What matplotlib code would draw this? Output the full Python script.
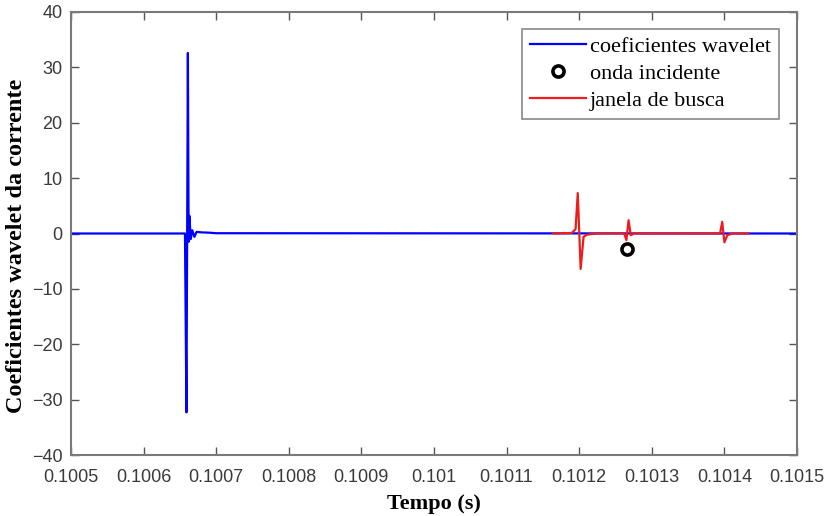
import matplotlib
matplotlib.use("Agg")
import matplotlib.pyplot as plt

# ---- data ----
blue_t = [0.1005, 0.100657, 0.100659, 0.100661, 0.100662, 0.100663, 0.100665,
          0.100667, 0.100670, 0.100673, 0.100680, 0.100690, 0.100700, 0.1015]
blue_v = [0, 0, -32.3, 32.6, -1.5, 3.2, -1.0, 0.6, -0.6, 0.3, 0.2, 0.15, 0.05, 0]

red_t = [0.101164, 0.101190, 0.101195, 0.101198, 0.101202, 0.101206, 0.101211,
         0.101225, 0.101262, 0.101265, 0.101268, 0.101271, 0.101276,
         0.101394, 0.101397, 0.101400, 0.101404, 0.101411, 0.101433]
red_v = [0, 0.1, 0.8, 7.3, -6.4, -0.6, -0.2, 0, 0, -1.2, 2.4, -0.3, 0,
         0, 2.1, -1.6, -0.3, 0, 0]

inc_t = [0.101266]
inc_v = [-2.8]

xticks = [0.1005, 0.1006, 0.1007, 0.1008, 0.1009, 0.1010, 0.1011, 0.1012, 0.1013, 0.1014, 0.1015]
xticklabels = ["0.1005", "0.1006", "0.1007", "0.1008", "0.1009", "0.101",
               "0.1011", "0.1012", "0.1013", "0.1014", "0.1015"]
yticks = [-40, -30, -20, -10, 0, 10, 20, 30, 40]

fig = plt.figure(figsize=(8.28, 5.16), dpi=100)
ax = fig.add_axes([71/828, 1-455/516, (797-71)/828, (455-12)/516])

ax.plot(blue_t, blue_v, color="#0000ff", lw=1.6, label="coeficientes wavelet")
ax.plot(inc_t, inc_v, linestyle="none", marker="o", markersize=8,
        markerfacecolor="none", markeredgecolor="black", markeredgewidth=2.6,
        label="onda incidente", zorder=5)
ax.plot(red_t, red_v, color="#ee1c1c", lw=1.6, label="janela de busca")

ax.set_xlim(0.1005, 0.1015)
ax.set_ylim(-40, 40)
ax.set_xticks(xticks)
ax.set_xticklabels(xticklabels)
ax.set_yticks(yticks)

for lab in ax.get_xticklabels() + ax.get_yticklabels():
    lab.set_fontfamily("Liberation Sans")
    lab.set_fontsize(13)
    lab.set_color("#3a3a3a")

ax.tick_params(direction="in", length=6, width=1, color="#555555",
               top=True, right=True)
ax.tick_params(axis="x", pad=10)
ax.tick_params(axis="y", pad=6)
for s in ax.spines.values():
    s.set_color("#7a7a7a")
    s.set_linewidth(1.5)

ax.set_xlabel("Tempo (s)", fontfamily="Liberation Serif", fontweight="bold",
              fontsize=16, labelpad=6)
ax.set_ylabel("Coeficientes wavelet da corrente", fontfamily="Liberation Serif",
              fontweight="bold", fontsize=17.5)
ax.yaxis.set_label_coords(-0.061, 0.472)

leg = ax.legend(loc="upper right", bbox_to_anchor=(0.975, 0.962),
                prop={"family": "Liberation Serif", "size": 16},
                frameon=True, fancybox=False, borderpad=0.35, labelspacing=0.28,
                handlelength=2.5, handletextpad=0.2, borderaxespad=0)
leg.get_frame().set_edgecolor("#6a6a6a")
leg.get_frame().set_linewidth(1.2)

fig.savefig("out.png", dpi=100)
